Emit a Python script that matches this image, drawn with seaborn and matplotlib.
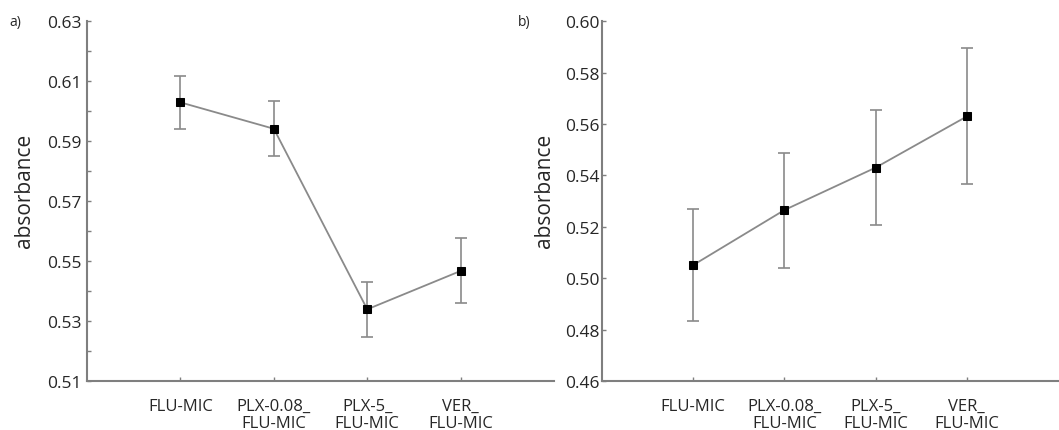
import numpy as np
import pandas as pd
import seaborn as sns
import matplotlib.pyplot as plt
from matplotlib.ticker import FixedLocator

groups = ["FLU-MIC", "PLX-0.08_\nFLU-MIC", "PLX-5_\nFLU-MIC", "VER_\nFLU-MIC"]

# panel a
mean_a = [0.6029, 0.5941, 0.5339, 0.5467]
low_a = [0.5940, 0.5850, 0.5247, 0.5359]
high_a = [0.6118, 0.6033, 0.5430, 0.5578]
yticks_a = [0.51, 0.53, 0.55, 0.57, 0.59, 0.61, 0.63]

# panel b
mean_b = [0.5051, 0.5265, 0.5430, 0.5629]
low_b = [0.4832, 0.5041, 0.5205, 0.5366]
high_b = [0.5270, 0.5488, 0.5656, 0.5894]
yticks_b = [0.46, 0.48, 0.50, 0.52, 0.54, 0.56, 0.58, 0.60]

sns.set_theme(style="ticks")
plt.rcParams['font.family'] = ['Open Sans', 'DejaVu Sans']

line_col = "#8a8a8a"
spine_col = "#7f7f7f"
text_col = "#262626"

fig = plt.figure(figsize=(10.59, 4.31), dpi=100)
ax_a = fig.add_axes([0.0822, 0.1137, 0.441, 0.835])
ax_b = fig.add_axes([0.5685, 0.1137, 0.4305, 0.835])


def draw(ax, mean, low, high, yticks, minor, lab_pad, label_x):
    df = pd.DataFrame({"group": groups, "absorbance": mean})
    yerr = np.array([np.array(mean) - np.array(low), np.array(high) - np.array(mean)])
    ax.errorbar(df["group"], df["absorbance"], yerr=yerr, fmt="none",
                ecolor=line_col, elinewidth=1.2, capsize=4, capthick=1.2, zorder=2)
    sns.lineplot(data=df, x="group", y="absorbance", ax=ax, sort=False,
                 color=line_col, linewidth=1.3, marker="s", markersize=5.5,
                 markerfacecolor="black", markeredgecolor="black", zorder=3)
    ax.set_xlim(-1, 4)
    ax.set_ylim(yticks[0], yticks[-1])
    ax.yaxis.set_major_locator(FixedLocator(yticks))
    ax.yaxis.set_major_formatter(plt.FormatStrFormatter("%.2f"))
    if minor:
        mids = [(a + b) / 2 for a, b in zip(yticks[:-1], yticks[1:])]
        ax.yaxis.set_minor_locator(FixedLocator(mids))
        ax.tick_params(axis="y", which="minor", direction="in", length=3,
                       color=spine_col, width=1)
    ax.tick_params(axis="y", which="major", direction="in", length=3,
                   color=spine_col, width=1, labelsize=12.5, labelcolor=text_col, pad=lab_pad)
    ax.tick_params(axis="x", direction="in", length=3, color=spine_col, width=1,
                   labelsize=12, labelcolor=text_col, pad=12)
    for lbl in ax.get_xticklabels():
        lbl.set_horizontalalignment("center")
        lbl.set_linespacing(1.1)
    ax.set_xlabel("")
    ax.set_ylabel("absorbance", fontsize=15, color=text_col)
    ax.yaxis.set_label_coords(label_x, 0.53)
    sns.despine(ax=ax)
    for s in ("left", "bottom"):
        ax.spines[s].set_color(spine_col)
        ax.spines[s].set_linewidth(1.5)


draw(ax_a, mean_a, low_a, high_a, yticks_a, True, 4, -0.111)
draw(ax_b, mean_b, low_b, high_b, yticks_b, False, 2, -0.103)

fig.text(0.009, 0.948, "a)", fontsize=10, color=text_col, va="center")
fig.text(0.489, 0.948, "b)", fontsize=10, color=text_col, va="center")

fig.savefig("out.png", dpi=100)
